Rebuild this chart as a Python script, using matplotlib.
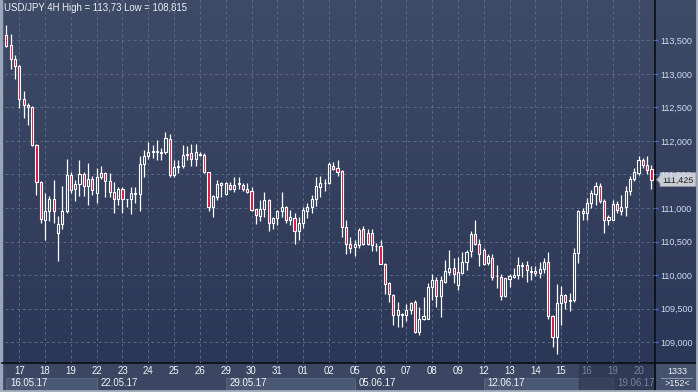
import matplotlib.pyplot as plt
import numpy as np
from matplotlib.patches import Rectangle, Polygon
from matplotlib.transforms import blended_transform_factory

# USD/JPY 4H candles (16.05.17 12:00 .. 20.06.17 12:00)
opens = [113.58, 113.43, 113.22, 113.12, 112.62, 112.53, 112.50, 111.94, 111.39, 110.82,
         110.95, 111.14, 110.62, 110.76, 110.96, 111.49, 111.28, 111.36, 111.51, 111.33,
         111.44, 111.23, 111.47, 111.52, 111.41, 111.24, 111.13, 111.29, 111.13, 111.14,
         111.21, 111.21, 111.66, 111.78, 111.84, 111.84, 111.84, 111.83, 112.03, 111.49,
         111.61, 111.62, 111.79, 111.82, 111.73, 111.79, 111.79, 111.53, 111.02, 111.16,
         111.34, 111.21, 111.35, 111.29, 111.36, 111.35, 111.29, 111.25, 110.98, 110.88,
         110.98, 111.12, 110.78, 110.85, 110.95, 111.01, 110.82, 110.85, 110.66, 110.78,
         110.96, 111.01, 111.13, 111.32, 111.37, 111.37, 111.63, 111.59, 111.55, 110.71,
         110.46, 110.42, 110.45, 110.68, 110.63, 110.63, 110.43, 110.44, 110.17, 109.88,
         109.70, 109.40, 109.41, 109.40, 109.48, 109.60, 109.15, 109.35, 109.35, 109.82,
         109.93, 109.68, 109.90, 110.04, 110.10, 109.85, 110.03, 110.20, 110.36, 110.61,
         110.47, 110.38, 110.18, 110.25, 109.98, 109.97, 109.68, 109.94, 109.97, 110.00,
         110.14, 110.15, 110.05, 110.06, 110.03, 110.09, 110.19, 109.39, 109.07, 109.58,
         109.70, 109.61, 109.62, 110.33, 110.96, 110.92, 111.07, 111.21, 111.33, 111.10,
         110.82, 110.82, 111.06, 110.96, 111.01, 111.25, 111.43, 111.52, 111.72, 111.64, 111.58]
highs = [113.73, 113.59, 113.29, 113.13, 112.74, 112.56, 112.52, 111.96, 111.40, 111.22,
         111.18, 111.42, 110.88, 111.33, 111.73, 111.54, 111.42, 111.71, 111.54, 111.67,
         111.48, 111.59, 111.62, 111.54, 111.52, 111.39, 111.32, 111.32, 111.14, 111.32,
         111.32, 111.77, 111.87, 111.99, 111.94, 112.02, 111.89, 112.14, 112.10, 111.71,
         111.71, 111.94, 111.93, 111.96, 111.96, 111.84, 111.82, 111.53, 111.19, 111.42,
         111.39, 111.39, 111.39, 111.47, 111.47, 111.37, 111.37, 111.31, 110.99, 111.12,
         111.24, 111.14, 110.86, 110.97, 111.24, 111.03, 110.97, 110.92, 110.86, 111.01,
         111.07, 111.19, 111.47, 111.48, 111.44, 111.68, 111.68, 111.72, 111.57, 110.82,
         110.56, 110.52, 110.70, 110.73, 110.68, 110.68, 110.48, 110.52, 110.18, 109.89,
         109.72, 109.60, 109.43, 109.57, 109.60, 109.63, 109.52, 109.67, 109.88, 110.01,
         109.97, 109.99, 110.22, 110.38, 110.25, 110.27, 110.35, 110.38, 110.65, 110.82,
         110.53, 110.40, 110.32, 110.31, 110.15, 110.02, 109.96, 110.02, 110.10, 110.27,
         110.20, 110.21, 110.13, 110.13, 110.19, 110.26, 110.35, 109.40, 109.87, 109.83,
         109.72, 109.73, 110.40, 110.97, 111.00, 111.15, 111.27, 111.39, 111.37, 111.13,
         110.90, 111.12, 111.10, 111.20, 111.33, 111.48, 111.59, 111.77, 111.74, 111.78, 111.64]
lows = [113.41, 113.08, 112.92, 112.49, 112.35, 112.24, 111.92, 111.19, 110.78, 110.52,
        110.80, 110.78, 110.21, 110.68, 110.92, 111.23, 111.10, 111.18, 111.18, 111.04,
        111.19, 111.07, 111.43, 111.17, 111.16, 110.93, 111.04, 110.92, 111.02, 110.91,
        111.07, 110.96, 111.47, 111.73, 111.74, 111.72, 111.71, 111.80, 111.47, 111.47,
        111.52, 111.59, 111.72, 111.62, 111.62, 111.78, 111.52, 110.96, 110.87, 111.12,
        111.17, 111.19, 111.27, 111.24, 111.29, 111.26, 111.23, 110.96, 110.76, 110.81,
        110.87, 110.66, 110.68, 110.75, 110.87, 110.77, 110.75, 110.47, 110.52, 110.70,
        110.85, 110.92, 111.03, 111.16, 111.26, 111.36, 111.56, 111.48, 110.57, 110.32,
        110.33, 110.28, 110.40, 110.45, 110.45, 110.36, 110.36, 110.16, 109.72, 109.60,
        109.25, 109.22, 109.22, 109.32, 109.42, 109.14, 109.10, 109.33, 109.34, 109.62,
        109.53, 109.37, 109.88, 110.00, 109.88, 109.77, 110.02, 110.07, 110.27, 110.45,
        110.13, 110.15, 110.15, 109.93, 109.80, 109.62, 109.67, 109.82, 109.95, 109.94,
        109.97, 109.90, 109.93, 109.99, 109.95, 110.03, 109.34, 108.92, 108.815, 109.25,
        109.50, 109.47, 109.60, 110.18, 110.82, 110.82, 111.00, 111.05, 111.08, 110.63,
        110.75, 110.82, 110.92, 110.90, 110.88, 111.20, 111.41, 111.49, 111.59, 111.51, 111.29]
closes = [113.42, 113.23, 113.12, 112.62, 112.54, 112.50, 111.94, 111.39, 110.83, 110.95,
          111.14, 110.95, 110.76, 110.96, 111.49, 111.27, 111.36, 111.51, 111.33, 111.44,
          111.27, 111.46, 111.52, 111.41, 111.24, 111.13, 111.29, 111.14, 111.14, 111.22,
          111.22, 111.66, 111.78, 111.83, 111.845, 111.85, 111.82, 112.04, 111.49, 111.61,
          111.62, 111.79, 111.80, 111.73, 111.83, 111.81, 111.53, 111.02, 111.18, 111.36,
          111.37, 111.37, 111.29, 111.34, 111.37, 111.29, 111.24, 110.97, 110.90, 110.98,
          111.12, 110.78, 110.85, 110.96, 111.01, 110.82, 110.86, 110.66, 110.78, 110.97,
          111.01, 111.13, 111.33, 111.37, 111.38, 111.66, 111.58, 111.54, 110.71, 110.46,
          110.40, 110.47, 110.67, 110.47, 110.47, 110.45, 110.44, 110.17, 109.87, 109.72,
          109.40, 109.48, 109.42, 109.48, 109.58, 109.15, 109.35, 109.39, 109.82, 109.93,
          109.68, 109.93, 110.06, 110.10, 110.02, 110.05, 110.20, 110.35, 110.61, 110.47,
          110.32, 110.17, 110.28, 109.97, 109.99, 109.68, 109.95, 109.98, 110.00, 110.15,
          110.15, 110.07, 110.06, 110.03, 110.09, 110.19, 109.39, 109.08, 109.58, 109.70,
          109.60, 109.62, 110.33, 110.96, 110.92, 111.07, 111.22, 111.33, 111.10, 110.82,
          110.87, 111.06, 110.97, 111.01, 111.26, 111.43, 111.53, 111.72, 111.64, 111.57, 111.425]

day_labels = ['17', '18', '19', '22', '23', '24', '25', '26', '29', '30', '31', '01', '02',
              '05', '06', '07', '08', '09', '12', '13', '14', '15', '16', '19', '20']
week_labels = ['16.05.17', '22.05.17', '29.05.17', '05.06.17', '12.06.17', '19.06.17']
week_first_day = [None, 3, 8, 13, 18, 23]   # position in day_labels
price_ticks = [109.0, 109.5, 110.0, 110.5, 111.0, 111.5, 112.0, 112.5, 113.0, 113.5]
title = 'USD/JPY 4H High = 113,73 Low = 108,815'
bars_per_day = 6
first_day_bar = 3

plt.rcParams['font.family'] = ['Liberation Sans', 'DejaVu Sans']
FS = 6.9
FS_AX = 6.5

W, H = 698, 392
fig = plt.figure(figsize=(W / 100, H / 100), dpi=100)

# frame / background, in pixel coords
bg = fig.add_axes([0, 0, 1, 1])
bg.set_xlim(0, W)
bg.set_ylim(H, 0)
bg.axis('off')
top_c = np.array([62, 75, 103]) / 255
bot_c = np.array([43, 55, 86]) / 255
g = np.linspace(0, 1, 256)[:, None, None]
bg.imshow(top_c + (bot_c - top_c) * g, extent=[0, W, 363, 0], aspect='auto', zorder=0)
bg.add_patch(Rectangle((0, 363), W, 29, color='#3b4762', zorder=1))
bg.add_patch(Rectangle((655, 363), W - 655, 29, color='#45526d', zorder=1))
bg.plot([661, 692], [377.5, 377.5], color='#8894aa', lw=0.8, zorder=3)
bg.text(677, 371.5, '1333', ha='center', va='center', color='#eef1f6', fontsize=FS_AX, zorder=4)
bg.text(677, 384, '>152<', ha='center', va='center', color='#eef1f6', fontsize=FS_AX, zorder=4)
bg.add_patch(Rectangle((0, 0), 2, H, color='#9aa6bb', zorder=5))
bg.plot([2, W], [363, 363], color='#0a0d14', lw=1.2, zorder=5)
bg.plot([655, 655], [0, H], color='#0a0d14', lw=1.2, zorder=5)
bg.plot([0, W], [H - 1, H - 1], color='#a6afbf', lw=2, zorder=5)
bg.plot([W - 1, W - 1], [0, H], color='#a6afbf', lw=2, zorder=5)
bg.text(4, 8, title, va='center', ha='left', color='#eef2f8', fontsize=FS, zorder=5)

# main chart
ax = fig.add_axes([2 / W, 29 / H, 653 / W, 363 / H])
ax.patch.set_alpha(0)
for s in ax.spines.values():
    s.set_visible(False)
ax.set_xlim(-1.02, 150.83)
ax.set_ylim(108.687, 114.104)

day_starts = [first_day_bar + bars_per_day * k for k in range(len(day_labels))]
grid_kw = dict(color='#5a6984', lw=0.7, linestyle=(0, (3, 3)), zorder=1)
ax.hlines(price_ticks, -2, 152, **grid_kw)
ax.vlines(day_starts, 100, 120, **grid_kw)

idx = np.arange(len(opens))
o = np.array(opens)
c = np.array(closes)
ymin, ymax = ax.get_ylim()
frac = (ymax - (o + c) / 2) / (ymax - ymin)
fills = [('#e0103c' if cc < oo else tuple(top_c + (bot_c - top_c) * f))
         for oo, cc, f in zip(o, c, frac)]
ax.vlines(idx, lows, highs, color='white', lw=0.9, zorder=3)
ax.bar(idx, np.maximum(np.abs(c - o), 0.006), bottom=np.minimum(o, c), width=0.5,
       color=fills, edgecolor='white', linewidth=0.8, zorder=4)

ax.set_xticks([])
ax.yaxis.tick_right()
ax.set_yticks(price_ticks)
ax.set_yticklabels([f'{v:.3f}'.replace('.', ',') for v in price_ticks])
ax.tick_params(axis='y', direction='out', length=2.5, width=1, color='#3f73d6',
               labelcolor='#cddcf2', labelsize=FS_AX, pad=1.2)

# bottom time bar
tb = blended_transform_factory(ax.transData, bg.transData)
week_bounds = [-0.1] + [day_starts[d] for d in week_first_day[1:]] + [160]
for k, lab in enumerate(week_labels):
    x0, x1 = week_bounds[k], week_bounds[k + 1]
    if k % 2 == 0:
        bg.add_patch(Rectangle((x0, 377.5), x1 - x0, 14, transform=tb, facecolor='#4b5873',
                               edgecolor='#5d6a84', lw=0.6, zorder=2))
    dim = k == len(week_labels) - 1
    bg.text(x0 + 0.95, 382.5, lab, transform=tb, ha='left', va='center', fontsize=FS,
            color='#75839c' if dim else '#f2f4f8', zorder=4)
for d, lab in zip(day_starts, day_labels):
    dim = d > 133
    bg.text(d, 371.5, lab, transform=tb, ha='center', va='center', fontsize=FS,
            color='#75839c' if dim else '#f2f4f8', zorder=4)
# dark overlay over the newest part of the time bar
bg.add_patch(Rectangle((579, 364), 655 - 579, 27, color='#26314a', alpha=0.55, zorder=3))

# last price label
fig.canvas.draw()
y_last = H - ax.transData.transform((0, closes[-1]))[1]
bg.add_patch(Polygon([(656.5, y_last), (660, y_last - 4), (660, y_last - 7), (696, y_last - 7),
                      (696, y_last + 7), (660, y_last + 7), (660, y_last + 4)],
                     closed=True, facecolor='#c9cdd3', edgecolor='#8d939c', lw=0.6, zorder=6))
bg.text(677.5, y_last + 0.3, f'{closes[-1]:.3f}'.replace('.', ','), ha='center', va='center',
        color='#1b1d22', fontsize=FS_AX, zorder=7)

fig.savefig('out.png', dpi=100)
